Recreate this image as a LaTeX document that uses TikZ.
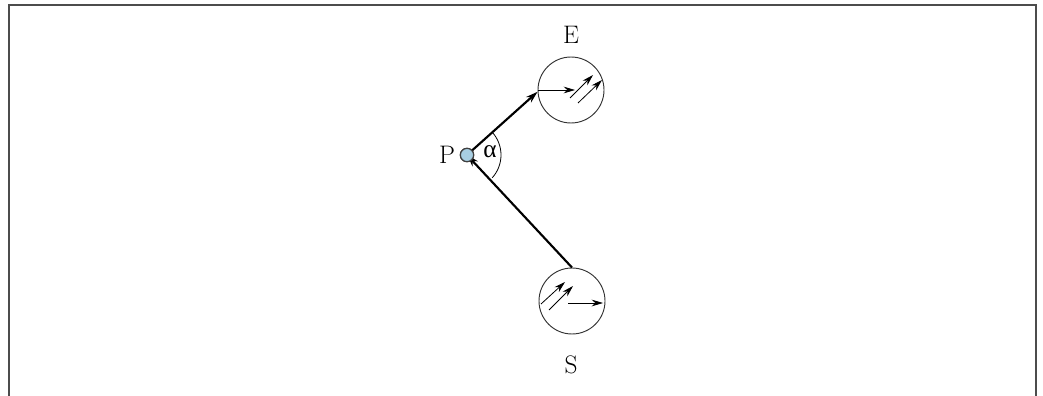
\documentclass[tikz,border=0pt]{standalone}
\usepackage{fontspec}
\newfontfamily\greekfont{Liberation Serif}
\usetikzlibrary{arrows.meta}
\begin{document}
\begin{tikzpicture}[x=0.75pt,y=-0.75pt,
  lbl/.style={font=\fontsize{19}{22}\selectfont, inner sep=0pt},
  sensor/.style={draw=black!80, line width=0.7pt, circle, minimum size=49.5pt, inner sep=0pt},
  pnt/.style={draw=black!75, line width=0.9pt, fill={rgb,255:red,168;green,206;blue,226}, circle, minimum size=10pt, inner sep=0pt},
  beam/.style={line width=1.6pt, -{Stealth[length=9pt,width=5.5pt]}},
  ray/.style={line width=0.6pt, -{Stealth[length=8.5pt,width=5pt]}},
  frame/.style={draw=black!70, line width=1.3pt}]
\useasboundingbox (0,0) rectangle (1043,396);
\draw[frame] (9,397) -- (9,5) -- (1036,5) -- (1036,397);
% nodes
\node[pnt] (P) at (467,155) {};
\node[sensor] (E) at (571,90) {};
\node[sensor] (S) at (572,301) {};
\node[lbl] (lE) at (571,35) {E};
\node[lbl] (lS) at (571,365) {S};
\node[lbl] (lP) at (447,155) {P};
\node[lbl] (la) at (490,152) {\greekfont α};
% angle arc
\draw[line width=0.6pt] (P.center) ++(-42:34) arc[start angle=-42, end angle=42, radius=34];
% beams
\draw[beam] (P.center) -- (E.183);
\draw[beam] (S.north) -- (P.center);
% rays in E
\draw[ray] (E.west) -- ([xshift=3]E.center);
\draw[ray] ([shift={(-1,8)}]E.center) -- ([shift={(22,-15)}]E.center);
\draw[ray] ([shift={(7,13)}]E.center) -- ([shift={(31,-10)}]E.center);
% rays in S
\draw[ray] ([shift={(-31,3)}]S.center) -- ([shift={(-7,-19)}]S.center);
\draw[ray] ([shift={(-23,9)}]S.center) -- ([shift={(1,-15)}]S.center);
\draw[ray] ([shift={(-4,2)}]S.center) -- ([shift={(31,2)}]S.center);
% redraw point on top
\node[pnt] at (P.center) {};
\end{tikzpicture}
\end{document}
